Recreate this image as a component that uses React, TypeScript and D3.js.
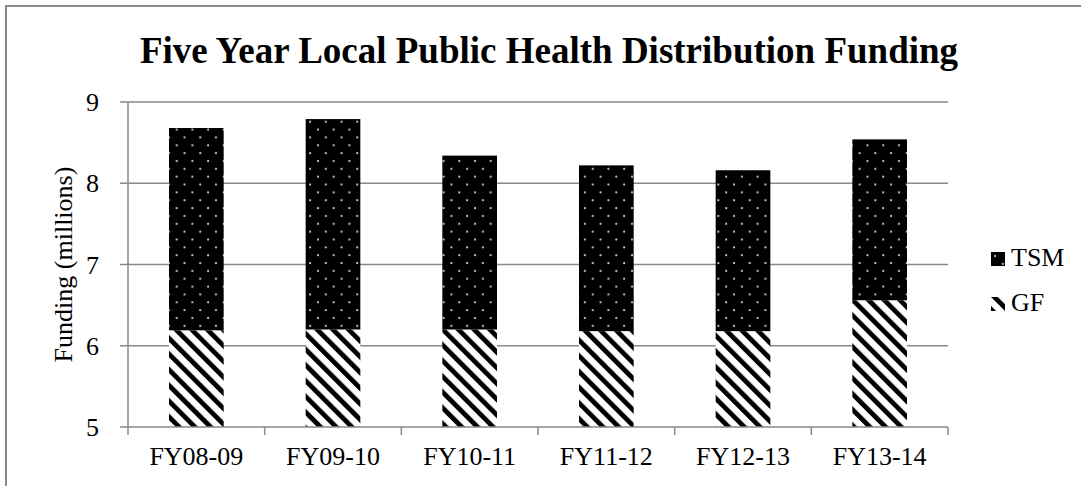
import React from 'react';
import * as d3 from 'd3';

const categories = ['FY08-09', 'FY09-10', 'FY10-11', 'FY11-12', 'FY12-13', 'FY13-14'];
const gfValues = [6.19, 6.2, 6.2, 6.18, 6.18, 6.56];
const totalValues = [8.68, 8.79, 8.34, 8.22, 8.16, 8.54];
const yTicks = [5, 6, 7, 8, 9];
const seriesNames = ['TSM', 'GF'];

const W = 1081;
const H = 486;
const margin = { top: 102, right: 133, bottom: 59, left: 128 };
const font = '"Liberation Serif", "Times New Roman", serif';
const gray = '#898989';

export default function App() {
  const x = d3.scaleBand()
    .domain(categories)
    .range([margin.left, W - margin.right])
    .paddingInner(0.6)
    .paddingOuter(0.3);

  const y = d3.scaleLinear()
    .domain([5, 9])
    .range([H - margin.bottom, margin.top]);

  const rows = categories.map((c, i) => ({ c, gf: gfValues[i], total: totalValues[i] }));
  const x0 = margin.left;
  const x1 = W - margin.right;
  const yBase = y(5);

  return (
    <svg width={W} height={H} style={{ position: 'absolute', left: 0, top: 0 }} fontFamily={font}>
      <defs>
        <pattern id="dots" patternUnits="userSpaceOnUse" width={15.7} height={15.7}>
          <rect width={15.7} height={15.7} fill="#000" />
          <circle cx={4} cy={4} r={1.1} fill="#d8d8d8" />
          <circle cx={11.85} cy={11.85} r={1.1} fill="#d8d8d8" />
        </pattern>
        <pattern id="hatch" patternUnits="userSpaceOnUse" width={11.1} height={11.1} patternTransform="rotate(-45)">
          <rect width={11.1} height={11.1} fill="#fff" />
          <rect width={4.8} height={11.1} fill="#000" />
        </pattern>
      </defs>

      <rect x={6} y={6} width={W + 10} height={H + 10} fill="#fff" stroke={gray} strokeWidth={2} />

      <text x={549} y={63} textAnchor="middle" fontWeight="bold" fontSize={37}>
        Five Year Local Public Health Distribution Funding
      </text>

      {/* gridlines */}
      {yTicks.filter(t => t > 5).map(t => (
        <line key={t} x1={x0} x2={x1} y1={y(t)} y2={y(t)} stroke={gray} strokeWidth={1.5} />
      ))}

      {/* bars */}
      {rows.map(d => (
        <g key={d.c}>
          <rect x={x(d.c)} width={x.bandwidth()} y={y(d.gf)} height={yBase - y(d.gf)} fill="url(#hatch)" />
          <rect x={x(d.c)} width={x.bandwidth()} y={y(d.total)} height={y(d.gf) - y(d.total)} fill="url(#dots)" />
        </g>
      ))}

      {/* y axis */}
      <line x1={x0} x2={x0} y1={y(9)} y2={yBase} stroke={gray} strokeWidth={1.5} />
      {yTicks.map(t => (
        <g key={t}>
          <line x1={x0 - 8} x2={x0} y1={y(t)} y2={y(t)} stroke={gray} strokeWidth={1.5} />
          <text x={99} y={y(t)} dy="0.35em" textAnchor="end" fontSize={26}>{t}</text>
        </g>
      ))}

      {/* x axis */}
      <line x1={x0} x2={x1} y1={yBase} y2={yBase} stroke={gray} strokeWidth={1.5} />
      {[...categories.map(c => x(c)! - x.step() * x.paddingInner() / 2), x1].map((px, i) => (
        <line key={i} x1={px} x2={px} y1={yBase} y2={yBase + 8} stroke={gray} strokeWidth={1.5} />
      ))}
      {categories.map(c => (
        <text key={c} x={x(c)! + x.bandwidth() / 2} y={465} textAnchor="middle" fontSize={26}>{c}</text>
      ))}

      <text transform={`translate(72,${(y(9) + yBase) / 2}) rotate(-90)`} textAnchor="middle" fontSize={26}>
        Funding (millions)
      </text>

      {/* legend */}
      {seriesNames.map((s, i) => (
        <g key={s} transform={`translate(991,${252 + i * 45})`}>
          {s === 'TSM'
            ? <rect width={14} height={14} fill="url(#dots)" />
            : <rect width={14} height={14} fill="url(#hatch)" />}
          <text x={20} y={14} fontSize={26}>{s}</text>
        </g>
      ))}
    </svg>
  );
}
